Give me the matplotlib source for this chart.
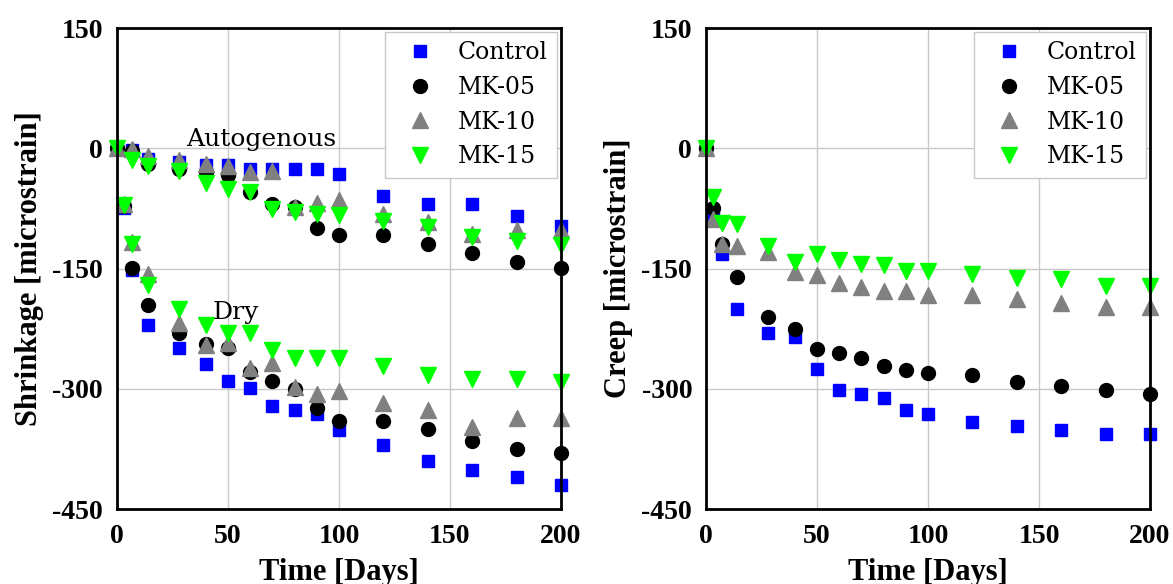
import matplotlib
matplotlib.use("Agg")
import matplotlib.pyplot as plt

plt.rcParams['axes.unicode_minus'] = False

# shrinkage, autogenous
t_auto = [0, 7, 14, 28, 40, 50, 60, 70, 80, 90, 100, 120, 140, 160, 180, 200]
auto_control = [0, -2, -13, -17, -21, -21, -26, -26, -26, -26, -32, -60, -70, -70, -84, -97]
auto_mk05 = [0, -3, -19, -26, -30, -33, -54, -69, -73, -100, -108, -108, -120, -131, -142, -149]
auto_mk10 = [0, -1, -10, -15, -19, -22, -29, -28, -73, -68, -65, -82, -92, -107, -102, -102]
auto_mk15 = [0, -15, -22, -28, -43, -51, -55, -76, -80, -82, -83, -91, -98, -111, -116, -121]

# shrinkage, dry
t_dry = [3, 7, 14, 28, 40, 50, 60, 70, 80, 90, 100, 120, 140, 160, 180, 200]
dry_control = [-75, -152, -220, -249, -269, -290, -299, -321, -326, -331, -351, -370, -390, -401, -410, -420]
dry_mk05 = [-72, -149, -195, -230, -244, -249, -279, -290, -300, -324, -340, -340, -350, -365, -375, -380]
dry_mk10 = [-69, -117, -157, -218, -245, -243, -274, -268, -298, -307, -303, -318, -327, -348, -337, -337]
dry_mk15 = [-71, -120, -171, -200, -220, -231, -231, -252, -262, -262, -262, -272, -283, -288, -288, -291]

# creep
t_creep = [0, 3, 7, 14, 28, 40, 50, 60, 70, 80, 90, 100, 120, 140, 160, 180, 200]
creep_control = [0, -86, -132, -200, -230, -236, -275, -301, -306, -312, -327, -332, -341, -346, -352, -356, -356]
creep_mk05 = [0, -75, -119, -161, -211, -225, -251, -255, -261, -271, -276, -280, -283, -291, -296, -301, -306]
creep_mk10 = [0, -88, -119, -122, -129, -154, -158, -168, -173, -178, -178, -183, -183, -188, -193, -198, -198]
creep_mk15 = [0, -61, -93, -95, -122, -142, -132, -139, -144, -146, -153, -153, -157, -162, -163, -172, -172]

names = ["Control", "MK-05", "MK-10", "MK-15"]
colors = ["#0000ff", "black", "grey", "#00ff00"]
markers = ["s", "o", "^", "v"]
sizes = [8.5, 10, 11.5, 11.5]

label_font = {"family": "Liberation Serif", "weight": "bold", "size": 22}


def setup(ax, ylabel):
    ax.set_xlim(0, 200)
    ax.set_ylim(-450, 150)
    ax.set_xticks([0, 50, 100, 150, 200])
    ax.set_yticks([-450, -300, -150, 0, 150])
    ax.grid(True, color="#c8c8c8", linewidth=1)
    ax.set_axisbelow(True)
    ax.tick_params(axis="y", length=0, pad=10)
    ax.tick_params(axis="x", length=0, pad=11)
    for lab in ax.get_xticklabels() + ax.get_yticklabels():
        lab.set_fontfamily("Liberation Serif")
        lab.set_fontweight("bold")
        lab.set_fontsize(20)
    for sp in ax.spines.values():
        sp.set_linewidth(2)
        sp.set_color("black")
    # the reference cuts the x label at the bottom edge too
    ax.set_xlabel("Time [Days]", fontdict=label_font, labelpad=6)
    ax.set_ylabel(ylabel, fontdict=label_font, labelpad=6)
    ax.legend(loc="upper right", prop={"family": "DejaVu Serif", "size": 17},
              fancybox=False, edgecolor="#c8c8c8", framealpha=1,
              borderaxespad=0.15, borderpad=0.4, handlelength=2.2,
              handletextpad=0.5, labelspacing=0.5)


fig = plt.figure(figsize=(11.73, 5.84), dpi=100)
ax1 = fig.add_axes([0.0997, 0.1284, 0.3785, 0.8236])
ax2 = fig.add_axes([0.6019, 0.1284, 0.3785, 0.8236])

auto = [auto_control, auto_mk05, auto_mk10, auto_mk15]
dry = [dry_control, dry_mk05, dry_mk10, dry_mk15]
creep = [creep_control, creep_mk05, creep_mk10, creep_mk15]

for i in range(4):
    ax1.plot(t_auto, auto[i], linestyle="none", marker=markers[i], color=colors[i],
             markersize=sizes[i], label=names[i], clip_on=False)
for i in range(4):
    ax1.plot(t_dry, dry[i], linestyle="none", marker=markers[i], color=colors[i],
             markersize=sizes[i], clip_on=False)
for i in range(4):
    ax2.plot(t_creep, creep[i], linestyle="none", marker=markers[i], color=colors[i],
             markersize=sizes[i], label=names[i], clip_on=False)

ax1.text(65, 2.5, "Autogenous", family="DejaVu Serif", fontsize=18, ha="center", va="baseline")
ax1.text(53.5, -213, "Dry", family="DejaVu Serif", fontsize=18, ha="center", va="baseline")

setup(ax1, "Shrinkage [microstrain]")
setup(ax2, "Creep [microstrain]")

fig.savefig("out.png", dpi=100)
